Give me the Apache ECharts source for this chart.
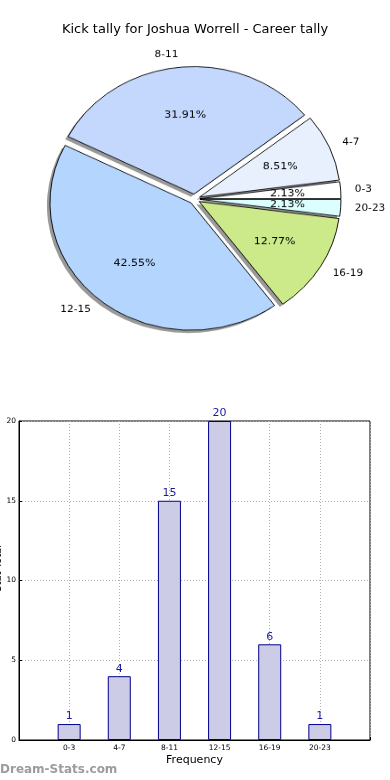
<!DOCTYPE html>
<html><head><meta charset="utf-8">
<script src="https://cdn.jsdelivr.net/npm/echarts@6/dist/echarts.min.js"></script>
<style>
html,body{margin:0;padding:0;background:#fff;}
#wrap{position:relative;width:390px;height:780px;overflow:hidden;}
#main{position:absolute;left:0;top:0;width:390px;height:780px;}
#pie{position:absolute;left:0;top:0;width:390px;height:400px;transform-origin:194.5px 199px;transform:scaleY(0.904);}
</style></head><body>
<div id="wrap"><div id="main"></div><div id="pie"></div></div>
<script>
const chartTitle = 'Kick tally for Joshua Worrell - Career tally';
const categories = ['0-3', '4-7', '8-11', '12-15', '16-19', '20-23'];
const counts = [1, 4, 15, 20, 6, 1];
const sliceColors = ['#ffffff', '#e8f0fe', '#c4d8fe', '#b4d6fe', '#cdea8a', '#dbffff'];
const yTicks = [0, 5, 10, 15, 20];
const xAxisName = 'Frequency';
const yAxisName = 'Stat Total';
const watermark = 'Dream-Stats.com';

const FONT = 'DejaVu Sans';
const total = counts.reduce((a, b) => a + b, 0);
const CX = 194.5, CY = 199, R = 141, OFF = 5.5;

const pieData = categories.map((c, i) => ({
  name: c, value: counts[i], selected: true,
  itemStyle: { color: sliceColors[i] }
}));
const shadowData = categories.map((c, i) => ({ name: c, value: counts[i], selected: true }));
const pctData = categories.map((c, i) => ({ name: c, value: counts[i], selected: true }));

const common = {
  type: 'pie', startAngle: 0, clockwise: false, selectedMode: 'multiple',
  selectedOffset: OFF, avoidLabelOverlap: false, emphasis: { disabled: true },
  animation: false
};

const pie = echarts.init(document.getElementById('pie'), null, { renderer: 'canvas' });
pie.setOption({
  animation: false,
  series: [
    Object.assign({}, common, {
      name: 'shadow', center: [CX - 3, CY + 3], radius: R, z: 1, silent: true,
      data: shadowData,
      itemStyle: { color: 'rgba(70,70,70,0.55)', borderWidth: 0 },
      select: { itemStyle: { color: 'rgba(70,70,70,0.55)', borderWidth: 0 } },
      label: { show: false }, labelLine: { show: false }
    }),
    Object.assign({}, common, {
      name: 'slices', center: [CX, CY], radius: R, z: 2, data: pieData,
      itemStyle: { borderColor: '#000', borderWidth: 0.9 },
      select: { itemStyle: { borderColor: '#000', borderWidth: 0.9 } },
      label: { show: true, position: 'outside', formatter: '{b}', fontFamily: FONT, fontSize: 10.5, color: '#000', distanceToLabelLine: 0 },
      labelLine: { show: false, length: 0.1 * R, length2: 0 }
    }),
    Object.assign({}, common, {
      name: 'pct', center: [CX, CY], radius: R * 1.2, z: 3, silent: true, data: pctData,
      itemStyle: { color: 'rgba(0,0,0,0)', borderWidth: 0 },
      select: { itemStyle: { color: 'rgba(0,0,0,0)', borderWidth: 0 } },
      label: { show: true, position: 'inside', rotate: 0, fontFamily: FONT, fontSize: 11, color: '#000',
        formatter: p => (p.value / total * 100).toFixed(2) + '%' },
      labelLine: { show: false }
    })
  ]
});

const main = echarts.init(document.getElementById('main'), null, { renderer: 'canvas' });
main.setOption({
  animation: false,
  textStyle: { fontFamily: FONT },
  title: { text: chartTitle, left: 'center', top: 23, padding: 0,
    textStyle: { fontFamily: FONT, fontSize: 13, fontWeight: 'normal', color: '#000' } },
  grid: { left: 19, right: 20, top: 421, bottom: 40, containLabel: false, outerBoundsMode: 'none',
    show: true, borderColor: '#000', borderWidth: 1 },
  xAxis: {
    type: 'value', min: 0, max: categories.length + 1, interval: 1,
    name: xAxisName, nameLocation: 'middle', nameGap: 15,
    nameTextStyle: { fontFamily: FONT, fontSize: 11, color: '#000' },
    axisLine: { show: true, lineStyle: { color: '#000', width: 1 } },
    axisTick: { show: true, inside: true, length: 3, lineStyle: { color: '#000' } },
    axisLabel: { fontFamily: FONT, fontSize: 7.5, color: '#000', margin: 4,
      formatter: v => categories[v - 1] || '' },
    splitLine: { show: true, lineStyle: { color: '#b0b0b0', type: [1, 2], width: 1 } }
  },
  yAxis: {
    type: 'value', min: yTicks[0], max: yTicks[yTicks.length - 1], interval: yTicks[1] - yTicks[0],
    axisLine: { show: true, lineStyle: { color: '#000', width: 1 } },
    axisTick: { show: true, inside: true, length: 3, lineStyle: { color: '#000' } },
    axisLabel: { fontFamily: FONT, fontSize: 7.5, color: '#000', margin: 3 },
    splitLine: { show: true, lineStyle: { color: '#b0b0b0', type: [1, 2], width: 1 } }
  },
  series: [{
    type: 'bar', barWidth: 23,
    data: categories.map((c, i) => [i + 1, counts[i]]),
    itemStyle: { color: '#cccce6', borderColor: '#00008b', borderWidth: 1 },
    label: { show: true, position: 'top', distance: 2, fontFamily: FONT, fontSize: 11, color: '#1a1aa0',
      formatter: p => p.value[1] }
  }],
  graphic: [{
    type: 'text', left: 0, top: 764,
    style: { text: watermark, fontFamily: FONT, fontSize: 12, fontWeight: 'bold', fill: '#9c9c9c' }
  }, {
    type: 'text', left: -7, top: 545,
    style: { text: yAxisName, fontFamily: FONT, fontSize: 10, fill: '#000' },
    rotation: Math.PI / 2
  }]
});
</script>
</body></html>
